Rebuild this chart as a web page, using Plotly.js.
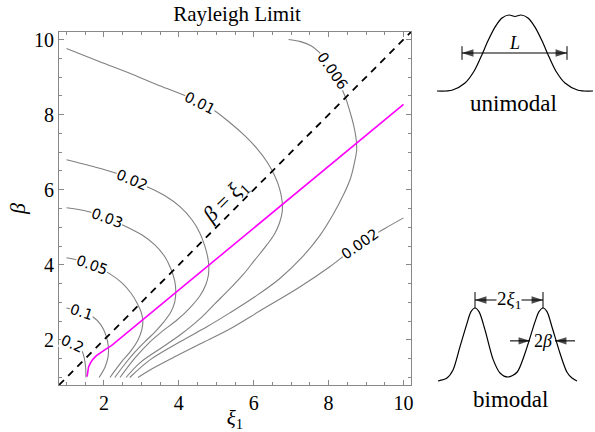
<!DOCTYPE html>
<html><head><meta charset="utf-8">
<script src="https://cdn.plot.ly/plotly-3.0.1.min.js"></script>
<style>html,body{margin:0;padding:0;background:#fff}#chart{width:595px;height:432px}</style>
</head><body><div id="chart"></div>
<script>
// ---- contour levels (labels) ----
const levels = ['0.2','0.1','0.05','0.03','0.02','0.01','0.006','0.002'];
// ---- contour curves (xi1, beta) ----
const xi_0p2   = [1.0,1.15,1.3,1.42,1.48,1.51,1.52];
const beta_0p2 = [1.95,1.9,1.82,1.69,1.49,1.28,1.0];
const xi_0p1   = [1.0,1.36,1.71,1.92,2.05,2.12,2.11,2.03,1.87];
const beta_0p1 = [2.85,2.75,2.61,2.4,2.13,1.81,1.55,1.28,1.0];
const xi_0p05   = [1.0,1.36,1.76,2.16,2.48,2.72,2.88,2.99,3.04,3.01,2.91,2.72,2.45,2.16];
const beta_0p05 = [4.19,4.11,3.97,3.76,3.52,3.25,2.99,2.75,2.51,2.27,2.0,1.71,1.39,1.0];
const xi_0p03   = [1.0,1.49,2.08,2.61,3.01,3.36,3.63,3.79,3.89,3.92,3.89,3.79,3.6,3.36,3.09,2.83,2.56,2.29];
const beta_0p03 = [5.52,5.44,5.25,5.01,4.8,4.53,4.21,3.89,3.57,3.28,3.01,2.75,2.48,2.21,1.95,1.68,1.36,1.0];
const xi_0p02   = [1.0,1.63,2.35,3.15,3.63,4.03,4.35,4.56,4.69,4.77,4.8,4.79,4.72,4.56,4.29,3.95,3.57,3.23,2.83,2.43];
const beta_0p02 = [6.8,6.64,6.43,6.08,5.84,5.55,5.2,4.85,4.51,4.21,3.97,3.73,3.47,3.17,2.85,2.53,2.24,1.95,1.52,1.0];
const xi_0p01   = [1.0,1.89,2.77,3.49,4.24,4.83,5.36,5.76,6.11,6.37,6.56,6.69,6.76,6.76,6.69,6.56,6.35,6.03,5.71,5.36,4.96,4.56,4.03,3.49,2.96,2.59];
const beta_0p01 = [9.76,9.41,9.07,8.77,8.48,8.19,7.79,7.44,7.07,6.72,6.37,6.03,5.68,5.41,5.12,4.83,4.53,4.13,3.73,3.36,2.96,2.56,2.13,1.76,1.39,1.0];
const xi_0p006   = [6.93,7.23,7.52,7.73,7.92,8.11,8.27,8.43,8.56,8.67,8.73,8.75,8.69,8.59,8.4,8.13,7.76,7.28,6.69,6.03,5.36,4.75,4.03,3.23,2.69];
const beta_0p006 = [10.0,9.95,9.84,9.68,9.47,9.17,8.85,8.51,8.11,7.71,7.39,7.07,6.72,6.32,5.87,5.36,4.77,4.19,3.63,3.15,2.72,2.35,1.95,1.47,1.0];
const xi_0p002   = [2.91,3.23,3.89,4.56,5.41,6.16,7.23,8.03,8.83,9.49,10.0];
const beta_0p002 = [1.0,1.2,1.55,1.89,2.32,2.77,3.41,3.95,4.56,4.96,5.25];
// ---- Rayleigh boundary (magenta) ----
const xi_limit   = [1.55,1.56,1.59,1.64,1.71,1.8,1.92,2.06,2.2,10.0];
const beta_limit = [1.02,1.15,1.28,1.39,1.49,1.58,1.67,1.76,1.85,8.27];
// ---- diagonal beta = xi1 ----
const xi_diag   = [0.8,10.2];
const beta_diag = [0.8,10.2];
// ---- insets ----
const uni_x = [-3.9,-3.15,-2.5,-2.05,-1.7,-1.35,-1.0,-0.65,-0.3,0,0.3,0.65,1.0,1.35,1.7,2.05,2.5,3.15,3.9];
const uni_y = [0,0.01,0.105,0.26,0.45,0.66,0.84,0.96,1.0,0.98,1.0,0.96,0.84,0.66,0.45,0.26,0.105,0.01,0];
const bi_x = [-3.55,-3.1,-2.8,-2.45,-2.1,-1.9,-1.7,-1.5,-1.2,-0.8,-0.45,-0.05,0.4,0.8,1.3,1.5,1.7,1.9,2.15,2.55,2.9,3.15,3.4];
const bi_y = [0,0.04,0.15,0.47,0.79,0.95,1.0,0.95,0.70,0.3,0.11,0.055,0.12,0.38,0.81,0.95,1.0,0.95,0.74,0.38,0.12,0.04,0];
const L_ends = [-2.65,2.6];          // width arrow of the unimodal profile
const peaks = [-1.7,1.7];            // peak positions of the bimodal profile
const beta_left = [0.05,1.05];       // 2beta arrow, left part
const beta_right = [3.3,2.3];        // 2beta arrow, right part
const tickVals = [2,4,6,8,10];

const contourX = [xi_0p2,xi_0p1,xi_0p05,xi_0p03,xi_0p02,xi_0p01,xi_0p006,xi_0p002];
const contourY = [beta_0p2,beta_0p1,beta_0p05,beta_0p03,beta_0p02,beta_0p01,beta_0p006,beta_0p002];

const SERIF = 'Liberation Serif, DejaVu Serif, serif';
const SANS = 'DejaVu Sans, sans-serif';
const GRAY = '#808080';

const traces = [];
levels.forEach((lv,i)=>{
  traces.push({x:contourX[i], y:contourY[i], type:'scatter', mode:'lines',
    line:{color:GRAY,width:1.1,shape:'spline',smoothing:1.0}, hoverinfo:'skip', name:lv});
});
traces.push({x:xi_diag,y:beta_diag,type:'scatter',mode:'lines',line:{color:'#000',width:1.8,dash:'7px,6px'},hoverinfo:'skip'});
traces.push({x:xi_limit,y:beta_limit,type:'scatter',mode:'lines',line:{color:'#ff00ff',width:1.6},hoverinfo:'skip'});
traces.push({x:uni_x,y:uni_y,xaxis:'x2',yaxis:'y2',type:'scatter',mode:'lines',line:{color:'#000',width:1.2,shape:'spline',smoothing:0.8},hoverinfo:'skip'});
traces.push({x:bi_x,y:bi_y,xaxis:'x3',yaxis:'y3',type:'scatter',mode:'lines',line:{color:'#000',width:1.2,shape:'spline',smoothing:0.8},hoverinfo:'skip'});

// arrows (line + arrow-shaped markers at the tips)
function arrow(xs, level, ax, ay, angles, sizes){
  return {x:xs, y:xs.map(()=>level), xaxis:ax, yaxis:ay, type:'scatter', mode:'lines+markers',
    line:{color:'#000',width:1.1},
    marker:{symbol:'arrow', angle:angles, size:sizes, color:'#000', line:{width:0}},
    hoverinfo:'skip'};
}
const L_level = 0.5, sepLevel = 1.11, widthLevel = 0.55;
traces.push(arrow(L_ends, L_level, 'x2','y2', [-90,90], [12,12]));
traces.push(arrow(peaks, sepLevel, 'x3','y3', [-90,90], [12,12]));
traces.push(arrow(beta_left, widthLevel, 'x3','y3', [90,90], [0,12]));
traces.push(arrow(beta_right, widthLevel, 'x3','y3', [-90,-90], [0,12]));

// contour label placement
const labelPos = [
  [1.17,1.9,25],[1.4,2.74,18],[1.68,4.0,20],[2.08,5.25,20],
  [2.75,6.27,23],[4.56,8.32,27],[8.11,9.17,55],[8.83,4.56,-35]
];
const annotations = levels.map((lv,i)=>({
  x:labelPos[i][0], y:labelPos[i][1], xref:'x', yref:'y', text:lv, showarrow:false,
  textangle:labelPos[i][2], bgcolor:'#fff', borderpad:0,
  font:{family:SANS,size:14.5,color:'#000'}
}));
annotations.push({x:5.25,y:5.7,xref:'x',yref:'y',showarrow:false,textangle:-45,
  text:'<i>β</i> = <i>ξ</i><sub>1</sub>',font:{family:SERIF,size:22,color:'#000'}});
annotations.push({xref:'x2',yref:'y2',x:-0.05,y:0.63,text:'<i>L</i>',showarrow:false,font:{family:SERIF,size:18,color:'#000'}});
annotations.push({xref:'x2',yref:'y2',x:-0.1,y:-0.16,text:'unimodal',showarrow:false,font:{family:SERIF,size:23,color:'#000'}});
annotations.push({xref:'x3',yref:'y3',x:0,y:sepLevel,text:'2<i>ξ</i><sub>1</sub>',showarrow:false,bgcolor:'#fff',borderpad:0,font:{family:SERIF,size:19,color:'#000'}});
annotations.push({xref:'x3',yref:'y3',x:1.68,y:widthLevel,text:'2<i>β</i>',showarrow:false,font:{family:SERIF,size:18,color:'#000'}});
annotations.push({xref:'x3',yref:'y3',x:0.05,y:-0.26,text:'bimodal',showarrow:false,font:{family:SERIF,size:23,color:'#000'}});

const shapes = [
  ...L_ends.map(v=>({type:'line',xref:'x2',yref:'y2',x0:v,x1:v,y0:0.41,y1:0.59,line:{color:'#000',width:1}})),
  ...peaks.map(v=>({type:'line',xref:'x3',yref:'y3',x0:v,x1:v,y0:1.0,y1:1.22,line:{color:'#000',width:1}}))
];

const axisCommon = {
  range:[0.8,10.2], tickvals:tickVals, ticks:'inside', ticklen:5, tickwidth:1, tickcolor:'#888',
  showline:true, linecolor:'#888', linewidth:1, mirror:'allticks', showgrid:false, zeroline:false,
  minor:{dtick:0.5, ticks:'inside', ticklen:3, tickcolor:'#888', tickwidth:1, showgrid:false},
  tickfont:{family:SERIF,size:20,color:'#000'}, fixedrange:true
};

const layout = {
  width:595, height:432, margin:{l:0,r:0,t:0,b:0}, paper_bgcolor:'#fff', plot_bgcolor:'#fff',
  showlegend:false,
  title:{text:'Rayleigh Limit', font:{family:SERIF,size:21,color:'#000'}, x:237/595, xanchor:'center', xref:'paper', y:1-14/432, yanchor:'middle'},
  xaxis:Object.assign({}, axisCommon, {domain:[59/595,411/595], anchor:'y',
    title:{text:'<i>ξ</i><sub>1</sub>', font:{family:SERIF,size:21,color:'#000'}, standoff:0}}),
  yaxis:Object.assign({}, axisCommon, {domain:[47/432,400/432], anchor:'x',
    title:{text:'<i>β</i>', font:{family:SERIF,size:22,color:'#000'}, standoff:2}}),
  xaxis2:{domain:[420/595,1], range:[-4.75,4.0], visible:false, anchor:'y2', fixedrange:true},
  yaxis2:{domain:[302/432,1], range:[-0.513,1.197], visible:false, anchor:'x2', fixedrange:true},
  xaxis3:{domain:[420/595,1], range:[-4.45,4.3], visible:false, anchor:'y3', fixedrange:true},
  yaxis3:{domain:[0,162/432], range:[-0.699,1.521], visible:false, anchor:'x3', fixedrange:true},
  annotations:annotations, shapes:shapes
};
Plotly.newPlot('chart', traces, layout, {displayModeBar:false, staticPlot:true});
</script></body></html>
